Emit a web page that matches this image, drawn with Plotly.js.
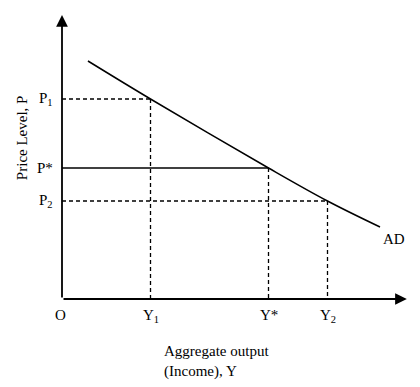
<!DOCTYPE html>
<html>
<head>
<meta charset="utf-8">
<script src="https://cdn.plot.ly/plotly-3.0.1.min.js"></script>
<style>html,body{margin:0;padding:0;background:#fff;}#chart{width:420px;height:387px;}</style>
</head>
<body>
<div id="chart"></div>
<script>
// Data (arbitrary units)
var adX = [0.88, 3, 7, 9, 10.78];
var adY = [11.9, 10, 6.55, 4.9, 3.6];
var outputVals = [0, 3, 7, 9];
var outputLabels = ['O', 'Y<sub>1</sub>', 'Y*', 'Y<sub>2</sub>'];
var priceVals = [10, 6.55, 4.9];
var priceLabels = ['P<sub>1</sub>', 'P*', 'P<sub>2</sub>'];
var priceOutput = [3, 7, 9];     // output matching each price level
var horizDash = ['dash', 'solid', 'dash'];
var xAxisEnd = 11.69, yAxisEnd = 14.2;

var FONT = 'Liberation Serif, Times New Roman, serif';
var FS = 15;
var traces = [];
traces.push({x: adX, y: adY, mode: 'lines', line: {color: '#000', width: 1.5, shape: 'spline'}, cliponaxis: false, hoverinfo: 'skip'});
for (var i = 0; i < priceVals.length; i++) {
  traces.push({x: [0, priceOutput[i]], y: [priceVals[i], priceVals[i]], mode: 'lines',
    line: {color: '#000', width: horizDash[i] === 'solid' ? 1.5 : 1.3, dash: horizDash[i] === 'solid' ? 'solid' : '4px,3px'}, hoverinfo: 'skip'});
  traces.push({x: [priceOutput[i], priceOutput[i]], y: [priceVals[i], 0], mode: 'lines',
    line: {color: '#000', width: 1.3, dash: '4px,3px'}, hoverinfo: 'skip'});
}

var ann = [];
// axes arrows
ann.push({x: xAxisEnd, y: 0, ax: 0, ay: 0, axref: 'x', ayref: 'y', xref: 'x', yref: 'y', text: '', showarrow: true, arrowhead: 2, arrowsize: 1.3, arrowwidth: 1.8, arrowcolor: '#000'});
ann.push({x: 0, y: yAxisEnd, ax: 0, ay: 0, axref: 'x', ayref: 'y', xref: 'x', yref: 'y', text: '', showarrow: true, arrowhead: 2, arrowsize: 1.3, arrowwidth: 1.8, arrowcolor: '#000'});
for (var j = 0; j < outputVals.length; j++) {
  ann.push({x: outputVals[j], y: 0, xref: 'x', yref: 'y', text: outputLabels[j], showarrow: false,
    xanchor: 'center', yanchor: 'top', yshift: -6, xshift: j === 0 ? -2 : 0, font: {family: FONT, size: FS, color: '#000'}});
}
for (var k = 0; k < priceVals.length; k++) {
  ann.push({x: 0, y: priceVals[k], xref: 'x', yref: 'y', text: priceLabels[k], showarrow: false,
    xanchor: 'right', yanchor: 'middle', xshift: -7, font: {family: FONT, size: FS, color: '#000'}});
}
ann.push({x: adX[adX.length - 1], y: adY[adY.length - 1], xref: 'x', yref: 'y', text: 'AD', showarrow: false,
  xanchor: 'left', yanchor: 'top', xshift: 1, yshift: -2, font: {family: FONT, size: FS, color: '#000'}});
ann.push({x: 0.2857, y: -0.145, xref: 'paper', yref: 'paper', text: 'Aggregate output<br>(Income), Y', showarrow: false,
  xanchor: 'left', yanchor: 'top', align: 'left', font: {family: FONT, size: FS, color: '#000'}});
ann.push({x: -0.114, y: 0.557, xref: 'paper', yref: 'paper', text: 'Price Level, P', showarrow: false, textangle: -90,
  xanchor: 'center', yanchor: 'middle', font: {family: FONT, size: FS, color: '#000'}});

var layout = {
  width: 420, height: 387,
  margin: {l: 62, r: 8, t: 10, b: 88},
  paper_bgcolor: '#fff', plot_bgcolor: '#fff',
  showlegend: false,
  xaxis: {range: [0, 350 / 29.5], showgrid: false, zeroline: false, showline: false, showticklabels: false, ticks: '', fixedrange: true},
  yaxis: {range: [0, 289 / 20], showgrid: false, zeroline: false, showline: false, showticklabels: false, ticks: '', fixedrange: true},
  annotations: ann,
  font: {family: FONT, size: FS, color: '#000'}
};
Plotly.newPlot('chart', traces, layout, {displayModeBar: false, staticPlot: true});
</script>
</body>
</html>
